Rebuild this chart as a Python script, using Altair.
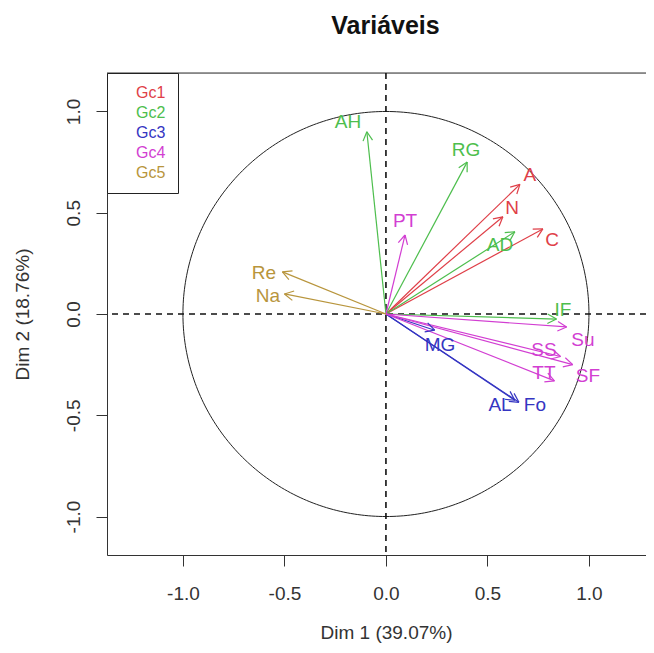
import numpy as np
import pandas as pd
import altair as alt

# ---- data ----
variables = ["A", "N", "C", "AH", "RG", "AD", "IF", "MG", "AL", "Fo",
             "PT", "Su", "SS", "SF", "TT", "Re", "Na"]
groups = ["Gc1", "Gc1", "Gc1", "Gc2", "Gc2", "Gc2", "Gc2", "Gc3", "Gc3", "Gc3",
          "Gc4", "Gc4", "Gc4", "Gc4", "Gc4", "Gc5", "Gc5"]
dim1 = [0.660, 0.576, 0.773, -0.094, 0.400, 0.635, 0.840, 0.240, 0.635, 0.655,
        0.094, 0.890, 0.860, 0.920, 0.830, -0.510, -0.500]
dim2 = [0.640, 0.480, 0.420, 0.900, 0.750, 0.406, -0.025, -0.080, -0.426, -0.436,
        0.390, -0.064, -0.210, -0.250, -0.330, 0.208, 0.099]
label_x = [0.709, 0.621, 0.818, -0.187, 0.394, 0.562, 0.872, 0.266, 0.562, 0.734,
           0.094, 0.970, 0.778, 0.995, 0.778, -0.601, -0.581]
label_y = [0.688, 0.525, 0.366, 0.950, 0.812, 0.342, 0.020, -0.153, -0.450, -0.450,
           0.460, -0.129, -0.178, -0.307, -0.292, 0.203, 0.089]

group_names = ["Gc1", "Gc2", "Gc3", "Gc4", "Gc5"]
group_colors = ["#DF3F48", "#4DBE4D", "#3535C2", "#D23ED2", "#B8953C"]

x_ticks = [-1.0, -0.5, 0.0, 0.5, 1.0]
y_ticks = [-1.0, -0.5, 0.0, 0.5, 1.0]
x_domain = [-1.374, 1.281]
y_domain = [-1.19, 1.19]

# ---- tables ----
vec = pd.DataFrame({"var": variables, "grp": groups, "d1": dim1, "d2": dim2,
                    "lx": label_x, "ly": label_y})
vec["x0"] = 0.0
vec["y0"] = 0.0

head_len = 0.05
head_ang = np.deg2rad(28)
theta = np.arctan2(vec["d2"], vec["d1"])
wings = []
for sgn in (1, -1):
    w = vec[["var", "grp", "d1", "d2"]].copy()
    w["wx"] = vec["d1"] - head_len * np.cos(theta + sgn * head_ang)
    w["wy"] = vec["d2"] - head_len * np.sin(theta + sgn * head_ang)
    wings.append(w)
wings = pd.concat(wings, ignore_index=True)

t = np.linspace(0, 2 * np.pi, 361)
circle = pd.DataFrame({"cx": np.cos(t), "cy": np.sin(t), "i": np.arange(len(t))})
zero = pd.DataFrame({"z": [0.0]})

xs = alt.Scale(domain=x_domain, nice=False, zero=False)
ys = alt.Scale(domain=y_domain, nice=False, zero=False)
cs = alt.Scale(domain=group_names, range=group_colors)

hyphen_expr = "replace(datum.label, '\u2212', '-')"

x_axis = alt.Axis(values=x_ticks, format=".1f", labelExpr=hyphen_expr,
                  grid=False, domain=True,
                  domainColor="#333", domainWidth=1,
                  tickSize=11, tickColor="#333", labelFontSize=19,
                  labelColor="#333", labelBaseline="middle", labelPadding=27,
                  labelFont="Liberation Sans",
                  title="Dim 1 (39.07%)", titleFontSize=19, titleFontWeight="normal",
                  titleColor="#333", titleFont="Liberation Sans",
                  titleX=279, titleY=77, titleBaseline="middle", titleAlign="center")
y_axis = alt.Axis(values=y_ticks, format=".1f", labelExpr=hyphen_expr,
                  grid=False, domain=True,
                  domainColor="#333", domainWidth=1,
                  tickSize=11, tickColor="#333", labelFontSize=19,
                  labelColor="#333", labelAngle=270, labelAlign="center",
                  labelBaseline="middle", labelPadding=23,
                  labelFont="Liberation Sans",
                  title="Dim 2 (18.76%)", titleFontSize=19, titleFontWeight="normal",
                  titleColor="#333", titleFont="Liberation Sans",
                  titleX=-85, titleY=241, titleAngle=270, titleBaseline="middle",
                  titleAlign="center")

circle_layer = alt.Chart(circle).mark_line(color="#222", strokeWidth=1).encode(
    x=alt.X("cx:Q", scale=xs, axis=x_axis),
    y=alt.Y("cy:Q", scale=ys, axis=y_axis),
    order="i:Q",
)

# top edge of the plot frame (the right edge lies outside the picture)
frame_top = alt.Chart(zero).mark_rule(color="#333", strokeWidth=1).encode(
    y=alt.value(0)
)

vline = alt.Chart(zero).mark_rule(color="#111", strokeWidth=1.6, strokeDash=[6, 5]).encode(
    x=alt.X("z:Q", scale=xs)
)
hline = alt.Chart(zero).mark_rule(color="#111", strokeWidth=1.6, strokeDash=[6, 5]).encode(
    y=alt.Y("z:Q", scale=ys)
)

legend = alt.Legend(title=None, orient="none", legendX=0, legendY=0,
                    strokeColor="#222", fillColor="white", padding=12,
                    symbolSize=0, symbolOpacity=0, symbolStrokeWidth=0,
                    labelOffset=1, rowPadding=4, labelFontSize=16,
                    labelFont="Liberation Sans",
                    labelColor=alt.ExprRef(expr="scale('color', datum.value)"))

arrows = alt.Chart(vec).mark_rule(strokeWidth=1.2).encode(
    x=alt.X("x0:Q", scale=xs), y=alt.Y("y0:Q", scale=ys),
    x2="d1:Q", y2="d2:Q",
    color=alt.Color("grp:N", scale=cs, legend=legend),
)

heads = alt.Chart(wings).mark_rule(strokeWidth=1.2).encode(
    x=alt.X("d1:Q", scale=xs), y=alt.Y("d2:Q", scale=ys),
    x2="wx:Q", y2="wy:Q",
    color=alt.Color("grp:N", scale=cs, legend=None),
)

labels = alt.Chart(vec).mark_text(fontSize=19, font="Liberation Sans",
                                  align="center", baseline="middle").encode(
    x=alt.X("lx:Q", scale=xs), y=alt.Y("ly:Q", scale=ys),
    text="var:N",
    color=alt.Color("grp:N", scale=cs, legend=None),
)

chart = alt.layer(circle_layer, frame_top, vline, hline, arrows, heads, labels).properties(
    width=539, height=482,
    autosize=alt.AutoSizeParams(type="none"),
    padding={"left": 99, "top": 65, "right": 0, "bottom": 90},
    title=alt.TitleParams(text="Variáveis", fontSize=25, fontWeight="bold",
                          font="Liberation Sans", color="#111", anchor="middle",
                          baseline="alphabetic", offset=13, dx=9),
).configure_view(stroke=None).configure(font="Liberation Sans", background="white")

chart.save("out.html", embed_options={"renderer": "svg", "actions": False})
